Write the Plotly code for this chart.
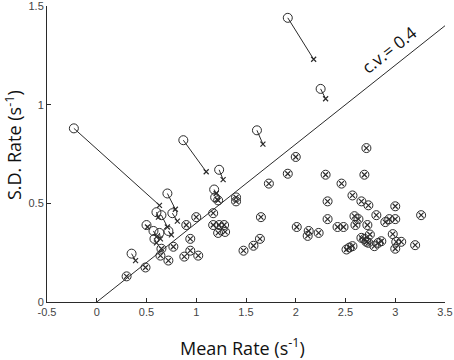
import plotly.graph_objects as go

# circle = condition A (mean, SD); cross = condition B (mean, SD)
circ_x = [-0.23, 0.87, 1.23, 1.92, 2.25, 1.61, 0.71, 0.76, 0.65, 0.72, 0.60, 0.57, 0.63, 0.58, 0.35,
          0.50, 0.30, 0.49, 0.65, 0.64, 0.72, 0.77, 0.90, 0.94, 0.94, 0.88, 1.02, 1.00, 1.17, 1.18,
          1.19, 1.22, 1.40, 1.40, 1.73, 1.17, 1.23, 1.28, 1.22, 1.29, 1.65, 1.64, 1.575, 1.475, 2.00,
          1.92, 2.30, 2.69, 2.71, 2.46, 2.32, 2.57, 2.66, 2.73, 3.00, 2.32, 2.59, 2.63, 2.81, 2.94,
          3.00, 2.90, 3.26, 2.60, 2.72, 2.01, 2.42, 2.48, 2.13, 2.12, 2.23, 2.745, 2.975, 2.66, 2.69,
          2.71, 2.73, 2.79, 2.83, 2.86, 3.01, 3.06, 3.00, 3.20, 2.51, 2.54, 2.57]
circ_y = [0.88, 0.82, 0.67, 1.44, 1.08, 0.87, 0.55, 0.45, 0.44, 0.36, 0.455, 0.36, 0.35, 0.32, 0.245,
          0.39, 0.13, 0.175, 0.27, 0.235, 0.21, 0.28, 0.39, 0.32, 0.26, 0.23, 0.235, 0.43, 0.45, 0.57,
          0.53, 0.515, 0.53, 0.51, 0.60, 0.39, 0.39, 0.39, 0.35, 0.355, 0.43, 0.32, 0.285, 0.26, 0.735,
          0.65, 0.645, 0.645, 0.78, 0.60, 0.51, 0.54, 0.51, 0.49, 0.485, 0.42, 0.435, 0.42, 0.44, 0.42,
          0.42, 0.405, 0.44, 0.39, 0.39, 0.38, 0.38, 0.38, 0.36, 0.335, 0.35, 0.342, 0.344, 0.325, 0.32,
          0.305, 0.30, 0.283, 0.30, 0.308, 0.305, 0.305, 0.27, 0.288, 0.266, 0.276, 0.283]
cross_x = [0.63, 1.10, 1.27, 2.18, 2.30, 1.67, 0.79, 0.81, 0.71, 0.75, 0.62, 0.60, 0.64, 0.60, 0.39,
           0.51, 0.30, 0.49, 0.65, 0.64, 0.72, 0.77, 0.90, 0.94, 0.94, 0.88, 1.02, 1.00, 1.17, 1.20,
           1.21, 1.22, 1.40, 1.40, 1.73, 1.17, 1.23, 1.28, 1.22, 1.29, 1.65, 1.64, 1.575, 1.475, 2.00,
           1.92, 2.30, 2.69, 2.71, 2.46, 2.32, 2.57, 2.66, 2.73, 3.00, 2.32, 2.59, 2.63, 2.81, 2.94,
           3.00, 2.90, 3.26, 2.60, 2.72, 2.01, 2.42, 2.48, 2.13, 2.12, 2.23, 2.745, 2.975, 2.66, 2.69,
           2.71, 2.73, 2.79, 2.83, 2.86, 3.01, 3.06, 3.00, 3.20, 2.51, 2.54, 2.57]
cross_y = [0.49, 0.66, 0.62, 1.23, 1.03, 0.80, 0.47, 0.41, 0.38, 0.34, 0.43, 0.33, 0.32, 0.30, 0.21,
           0.38, 0.13, 0.175, 0.27, 0.235, 0.21, 0.28, 0.39, 0.32, 0.26, 0.23, 0.235, 0.43, 0.45, 0.55,
           0.52, 0.515, 0.53, 0.51, 0.60, 0.39, 0.39, 0.39, 0.35, 0.355, 0.43, 0.32, 0.285, 0.26, 0.735,
           0.65, 0.645, 0.645, 0.78, 0.60, 0.51, 0.54, 0.51, 0.49, 0.485, 0.42, 0.435, 0.42, 0.44, 0.42,
           0.42, 0.405, 0.44, 0.39, 0.39, 0.38, 0.38, 0.38, 0.36, 0.335, 0.35, 0.342, 0.344, 0.325, 0.32,
           0.305, 0.30, 0.283, 0.30, 0.308, 0.305, 0.305, 0.27, 0.288, 0.266, 0.276, 0.283]

cv_value = 0.4
cv_line_x = [0, 3.5]
x_ticks = [-0.5, 0, 0.5, 1, 1.5, 2, 2.5, 3, 3.5]
x_tick_labels = ["-0.5", "0", "0.5", "1", "1.5", "2", "2.5", "3", "3.5"]
y_ticks = [0, 0.5, 1, 1.5]
y_tick_labels = ["0", "0.5", "1", "1.5"]

ink = "#2a2a2a"

seg_x, seg_y = [], []
for a, b, c, d in zip(circ_x, circ_y, cross_x, cross_y):
    seg_x += [a, c, None]
    seg_y += [b, d, None]

fig = go.Figure()
fig.add_trace(go.Scatter(x=cv_line_x, y=[v * cv_value for v in cv_line_x], mode="lines",
                         line=dict(color=ink, width=1), hoverinfo="skip", cliponaxis=False))
fig.add_trace(go.Scatter(x=seg_x, y=seg_y, mode="lines", line=dict(color=ink, width=1),
                         hoverinfo="skip"))
fig.add_trace(go.Scatter(x=circ_x, y=circ_y, mode="markers",
                         marker=dict(symbol="circle-open", size=9, color=ink, line=dict(width=1))))
fig.add_trace(go.Scatter(x=cross_x, y=cross_y, mode="markers",
                         marker=dict(symbol="x-thin-open", size=5, color=ink, line=dict(width=1.2, color=ink))))

fig.add_annotation(x=2.94, y=1.28, text="c.v.= 0.4", showarrow=False, textangle=-38,
                   font=dict(family="Open Sans", size=17, color="#111"))
title_font = dict(family="Open Sans", size=18, color="#111")
fig.add_annotation(xref="paper", yref="paper", x=0.49, y=-0.1, yanchor="top",
                   text="Mean Rate (s<sup>-1</sup>)", showarrow=False, font=title_font)
fig.add_annotation(xref="paper", yref="paper", x=-0.083, y=0.53, xanchor="center", textangle=-90,
                   text="S.D. Rate (s<sup>-1</sup>)", showarrow=False, font=title_font)

axis_common = dict(showline=True, linecolor=ink, linewidth=1, ticks="inside", ticklen=4,
                   tickcolor=ink, showgrid=False, zeroline=False, automargin=False,
                   ticklabeloverflow="allow",
                   tickfont=dict(family="Arial, Liberation Sans", size=11, color="#444"))
fig.update_xaxes(range=[-0.5, 3.5], tickvals=x_ticks, ticktext=x_tick_labels, **axis_common)
fig.update_yaxes(range=[0, 1.5], tickvals=y_ticks, ticktext=y_tick_labels, **axis_common)
fig.update_layout(width=454, height=360, showlegend=False, plot_bgcolor="white", paper_bgcolor="white",
                  margin=dict(l=47, r=9, t=6, b=58))
fig.write_html("out.html", config={"displayModeBar": False},
               post_script="document.body.style.margin='0';")
